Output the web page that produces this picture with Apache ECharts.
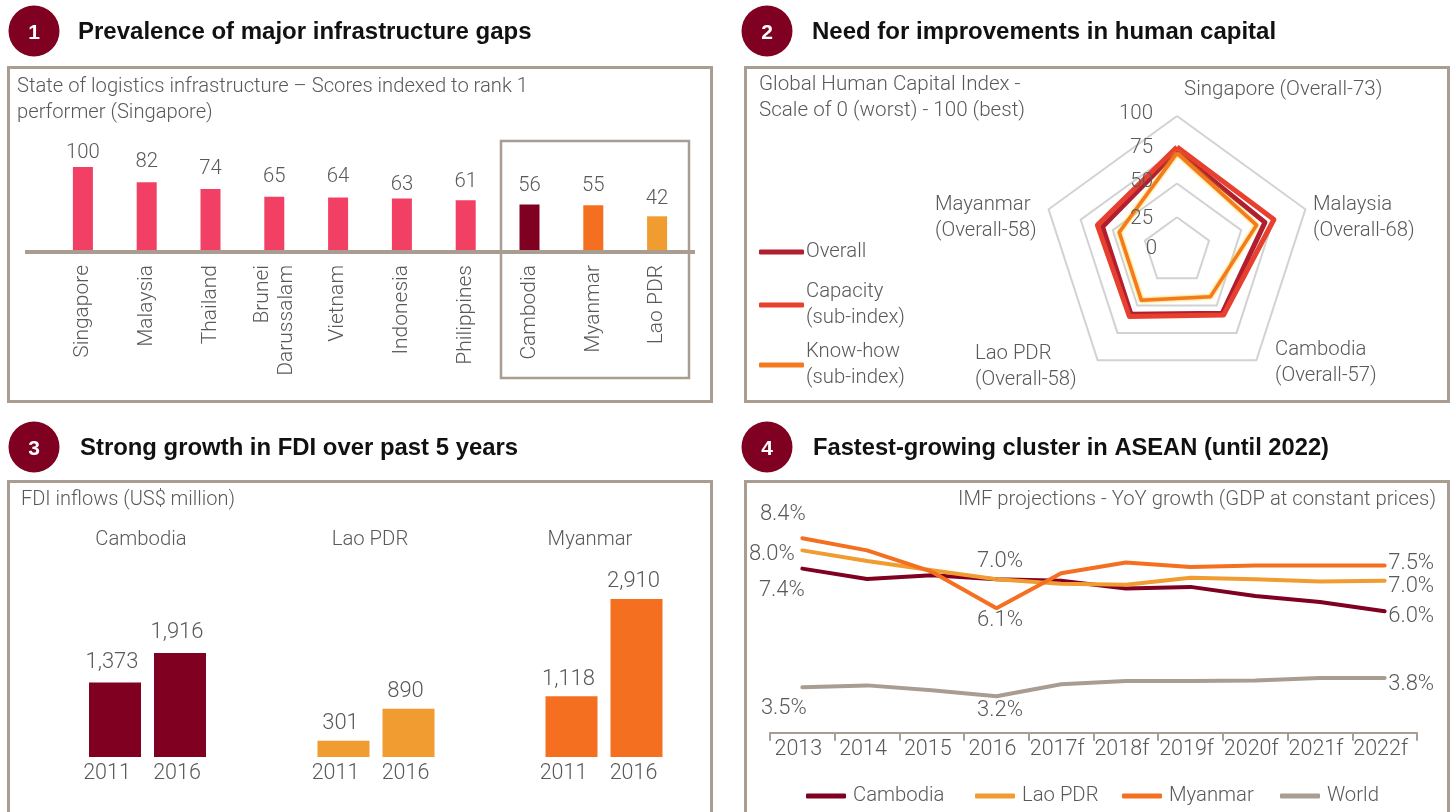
<!DOCTYPE html>
<html>
<head>
<meta charset="utf-8">
<style>html,body{margin:0;padding:0;background:#fff}#c{width:1453px;height:812px}</style>
<script src="https://cdn.jsdelivr.net/npm/echarts@6/dist/echarts.min.js"></script>
</head>
<body>
<div id="c"></div>
<script>
// ---- Data ----
const infraCountries = ['Singapore','Malaysia','Thailand','Brunei\nDarussalam','Vietnam','Indonesia','Philippines','Cambodia','Myanmar','Lao PDR'];
const infraScores = [100,82,74,65,64,63,61,56,55,42];

const radarCountries = ['Singapore','Mayanmar','Lao PDR','Cambodia','Malaysia'];
const radarOverall = [74,58,58,57,68.5];
const radarCapacity = [77,62,60,58.6,75.5];
const radarKnowHow = [72.5,45,45,42,62];
const radarTicks = [0,25,50,75,100];

const fdiYears = ['2011','2016'];
const fdiCambodia = [1373,1916];
const fdiLao = [301,890];
const fdiMyanmar = [1118,2910];

const gdpYears = ['2013','2014','2015','2016','2017f','2018f','2019f','2020f','2021f','2022f'];
const gdpCambodia = [7.4,7.06,7.18,7.05,7.0,6.75,6.8,6.5,6.3,6.0];
const gdpLao = [8.0,7.65,7.35,7.05,6.9,6.87,7.1,7.05,6.98,7.0];
const gdpMyanmar = [8.4,8.0,7.3,6.1,7.25,7.6,7.45,7.5,7.5,7.5];
const gdpWorld = [3.5,3.56,3.4,3.2,3.6,3.7,3.7,3.72,3.8,3.8];

// ---- Styles ----
const FONT = 'Roboto';
const TXT = '#595959';
const FS = 20.3;
const BORDER = '#a99d92';
const MAROON = '#7f0020', PINK = '#f24065', ORANGE = '#f47020', AMBER = '#f09c30', GREY = '#a99d92';
const infraColor = n => ({Cambodia:MAROON, Myanmar:ORANGE, 'Lao PDR':AMBER}[n] || PINK);
const infraLabelGap = [4,10,10,10,11,4,8,8,9,7];

const gfx = [];
const frame = (x,y,w,h,lw) => gfx.push({type:'rect',silent:true,z:1,shape:{x,y,width:w,height:h},style:{fill:null,stroke:BORDER,lineWidth:lw||3}});
const text = (x,y,s,o) => gfx.push({type:'text',silent:true,z:10,x,y,style:Object.assign({text:s,font:`300 ${FS}px ${FONT}`,fill:TXT,textAlign:'left',textVerticalAlign:'middle',lineHeight:26},o||{})});
const badge = (x,y,n,t,tx,size) => {
  gfx.push({type:'circle',silent:true,z:5,shape:{cx:x,cy:y,r:25.5},style:{fill:MAROON}});
  text(x,y+2,n,{font:'bold 21px "Liberation Sans"',fill:'#fff',textAlign:'center'});
  text(tx,y+1,t,{font:`bold ${size}px "Liberation Sans"`,fill:'#111'});
};
frame(8.5,67.5,703,334); frame(745.5,67.5,703,334); frame(8.5,481.5,703,360); frame(745.5,481.5,703,360);
frame(501,141,188,237,2.5);
gfx.push({type:'line',silent:true,z:6,shape:{x1:25,y1:252,x2:695,y2:252},style:{stroke:BORDER,lineWidth:4}});
badge(34,31,'1','Prevalence of major infrastructure gaps',78,24);
badge(767,31,'2','Need for improvements in human capital',812,24);
badge(34,447,'3','Strong growth in FDI over past 5 years',80,23.9);
badge(767,447,'4','Fastest-growing cluster in ASEAN (until 2022)',813,23.7);
text(17,100,'State of logistics infrastructure – Scores indexed to rank 1\nperformer (Singapore)',{font:`300 20.2px ${FONT}`});
text(759,98,'Global Human Capital Index -\nScale of 0 (worst) - 100 (best)',{font:`300 20.6px ${FONT}`});
text(21,500,'FDI inflows (US$ million)',{font:`300 20px ${FONT}`});
text(1436,500,'IMF projections - YoY growth (GDP at constant prices)',{textAlign:'right'});
text(141,540,'Cambodia',{textAlign:'center'});
text(370,540,'Lao PDR',{textAlign:'center'});
text(590,540,'Myanmar',{textAlign:'center'});
// radar spoke captions
text(1184,90,radarCountries[0]+' (Overall-73)',{font:`300 20.5px ${FONT}`});
text(1313,218,radarCountries[4]+'\n(Overall-68)');
text(1275,363,radarCountries[3]+'\n(Overall-57)');
text(975,367,radarCountries[2]+'\n(Overall-58)');
text(935,218,radarCountries[1]+'\n(Overall-58)');
// radar scale captions sit above the polygons
const radarTickY = [249,219,182,148,114];
const radarTickRight = [1157,1153,1153,1153,1153];
radarTicks.forEach((t,i)=>text(radarTickRight[i],radarTickY[i],String(t),{textAlign:'right',font:`300 20.5px ${FONT}`}));

const labelBase = {fontFamily:FONT,fontWeight:300,fontSize:FS,color:TXT};

const fdiGrid = (i,left) => ({
  grid:{left,width:130,top:594,height:163},
  x:{type:'category',gridIndex:i,data:fdiYears,axisLine:{show:false},axisTick:{show:false},
     axisLabel:Object.assign({},labelBase,{fontSize:21.5,margin:6,interval:0,
       formatter:(v,idx)=>idx===0?`{a|${v}}`:`{b|${v}}`,
       rich:{a:{padding:[0,16,0,0],fontFamily:FONT,fontWeight:300,fontSize:21.5,color:TXT},
             b:{padding:[0,6,0,0],fontFamily:FONT,fontWeight:300,fontSize:21.5,color:TXT}}})},
  y:{type:'value',gridIndex:i,min:0,max:3000,show:false,splitLine:{show:false}}
});
const fdi = [fdiGrid(1,82.5),fdiGrid(2,311),fdiGrid(3,539)];
const fdiBar = (i,name,vals,color,dist) => ({type:'bar',name,xAxisIndex:i,yAxisIndex:i,data:vals,barWidth:52,silent:true,
  itemStyle:{color},label:Object.assign({show:true,position:'top',distance:dist,offset:[-3,0],formatter:p=>p.value.toLocaleString('en-US')},labelBase,{fontSize:22})});

// offsets (dx,dy) from the point for each printed value
const gdpLabelSpec = {
  Cambodia:{0:[-20,22,'7.4%'],9:[27,6,'6.0%']},
  'Lao PDR':{0:[-30,5,'8.0%'],3:[4,-17,'7.0%'],9:[27,6,'7.0%']},
  Myanmar:{0:[-19,-23,'8.4%'],3:[4,13,'6.1%'],9:[27,-2,'7.5%']},
  World:{0:[-18,22,'3.5%'],3:[4,15,'3.2%'],9:[27,7,'3.8%']}
};
const gdpData = (name,vals) => vals.map((v,i)=>{
  const s = gdpLabelSpec[name][i];
  if(!s) return {value:v};
  return {value:v,label:Object.assign({show:true,position:[s[0],s[1]],align:'center',verticalAlign:'middle',formatter:s[2]},labelBase,{fontSize:22})};
});
const gdpLine = (name,vals,color) => ({type:'line',name,xAxisIndex:4,yAxisIndex:4,data:gdpData(name,vals),symbol:'circle',symbolSize:1,showAllSymbol:true,silent:true,
  lineStyle:{color,width:4,cap:'round'},itemStyle:{color}});

const radarLine = (name,vals,color,width,extra) => ({type:'radar',name,radarIndex:0,symbol:'none',silent:true,
  data:[{name,value:vals}],itemStyle:{color},lineStyle:Object.assign({color,width},extra||{})});

const gdpNames = ['Cambodia','Lao PDR','Myanmar','World'];
const gdpLegendLeft = [801,970,1117,1275];
const radarNames = ['Overall','Capacity\n(sub-index)','Know-how\n(sub-index)'];
const radarLegendTop = [234,274,334];

const option = {
  animation:false,
  backgroundColor:'#fff',
  textStyle:{fontFamily:FONT},
  graphic:{z:100,elements:gfx},
  legend:radarNames.map((n,i)=>({orient:'vertical',left:754,top:radarLegendTop[i],itemWidth:45,itemHeight:5,icon:'roundRect',align:'left',
     data:[n],selectedMode:false,textStyle:Object.assign({},labelBase,{lineHeight:26,padding:[0,0,0,-3]})}))
   .concat(gdpNames.map((n,i)=>({orient:'horizontal',left:gdpLegendLeft[i],top:781,itemWidth:40,itemHeight:5,icon:'roundRect',
     data:[n],selectedMode:false,textStyle:Object.assign({},labelBase,{padding:[0,0,0,2]})}))),
  radar:{
    center:[1177,251],radius:135,startAngle:90,splitNumber:4,shape:'polygon',
    indicator:radarCountries.map(name=>({name,min:radarTicks[0],max:radarTicks[4]})),
    axisName:{show:false},
    axisLine:{show:false},axisTick:{show:false},
    splitArea:{show:false},
    splitLine:{lineStyle:{color:'#d2d2d2',width:2}}
  },
  grid:[{left:51,width:638,top:167,height:85},fdi[0].grid,fdi[1].grid,fdi[2].grid,{left:770,width:647,top:520,height:212.8}],
  xAxis:[
    {type:'category',gridIndex:0,data:infraCountries,axisLine:{show:false},axisTick:{show:false},
     axisLabel:Object.assign({},labelBase,{fontSize:21,rotate:90,margin:13,interval:0,lineHeight:24})},
    fdi[0].x,fdi[1].x,fdi[2].x,
    {type:'category',gridIndex:4,data:gdpYears,axisLine:{lineStyle:{color:BORDER,width:2}},
     axisTick:{show:true,length:8,lineStyle:{color:BORDER,width:2}},
     axisLabel:Object.assign({},labelBase,{fontSize:21.5,margin:6,interval:0,padding:[0,8,0,0]})}
  ],
  yAxis:[
    {type:'value',gridIndex:0,min:0,max:100,show:false,splitLine:{show:false}},
    fdi[0].y,fdi[1].y,fdi[2].y,
    {type:'value',gridIndex:4,min:2,max:9,show:false,splitLine:{show:false}}
  ],
  series:[
    {type:'bar',xAxisIndex:0,yAxisIndex:0,barWidth:20,silent:true,
     data:infraScores.map((v,i)=>({value:v,itemStyle:{color:infraColor(infraCountries[i])},
       label:Object.assign({show:true,position:'top',distance:infraLabelGap[i]},labelBase)}))},
    radarLine('Overall',radarOverall,'#b01e30',5),
    radarLine('Capacity\n(sub-index)',radarCapacity,'#e8402f',5),
    radarLine('Know-how\n(sub-index)',radarKnowHow,'#f47a1f',3.5,{shadowColor:'#ffc000',shadowBlur:3}),
    fdiBar(1,'Cambodia',fdiCambodia,MAROON,9),
    fdiBar(2,'Lao PDR',fdiLao,AMBER,6),
    fdiBar(3,'Myanmar',fdiMyanmar,ORANGE,6),
    gdpLine('Cambodia',gdpCambodia,MAROON),
    gdpLine('Lao PDR',gdpLao,AMBER),
    gdpLine('Myanmar',gdpMyanmar,ORANGE),
    gdpLine('World',gdpWorld,GREY)
  ]
};
echarts.init(document.getElementById('c'),null,{renderer:'canvas'}).setOption(option);
</script>
</body>
</html>
